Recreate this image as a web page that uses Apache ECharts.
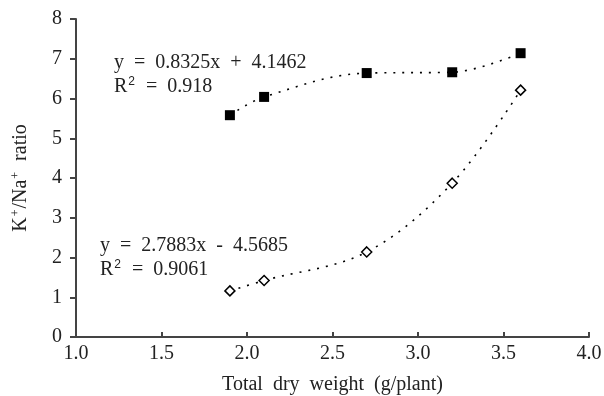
<!DOCTYPE html>
<html>
<head>
<meta charset="utf-8">
<script src="https://cdn.jsdelivr.net/npm/echarts@6/dist/echarts.min.js"></script>
<style>
  html, body { margin: 0; padding: 0; background: #fff; }
  #chart { width: 604px; height: 396px; }
</style>
</head>
<body>
<div id="chart"></div>
<script>
// dry weight (g/plant)
const dryWeight = [1.9, 2.1, 2.7, 3.2, 3.6];
// K+/Na+ ratio, filled squares
const ratioSquares = [5.58, 6.04, 6.64, 6.66, 7.14];
// K+/Na+ ratio, open diamonds
const ratioDiamonds = [1.16, 1.42, 2.14, 3.87, 6.21];

const xTicks = [1.0, 1.5, 2.0, 2.5, 3.0, 3.5, 4.0];
const eqTop = ['y = 0.8325x + 4.1462', 'R2 = 0.918'];
const eqBottom = ['y = 2.7883x - 4.5685', 'R2 = 0.9061'];

const FONT = '"Liberation Serif", "Times New Roman", serif';
const INK = '#000';
const TXT = '#222';

const chart = echarts.init(document.getElementById('chart'));

function pairs(xs, ys) {
  return xs.map((x, i) => [x, ys[i]]);
}

const lineStyle = { color: INK, width: 1.6, type: [2, 7] };

// R2 -> R + superscript 2, and widen the gaps round = + -
function eqText(lines) {
  return lines.map(s => s.replace('R2', 'R{sup|2}').replace(/ ([=+-]) /g, '  $1  ')).join('\n');
}

const supStyle = { fontSize: 12, fill: TXT, padding: [0, 1, 10, 1] };

chart.setOption({
  animation: false,
  grid: { left: 76, right: 15, top: 19, bottom: 59, outerBoundsMode: 'none', containLabel: false },
  xAxis: {
    type: 'value',
    min: 1, max: 4, interval: 0.5,
    name: 'Total  dry  weight  (g/plant)',
    nameLocation: 'center',
    nameGap: 38,
    nameTextStyle: { fontFamily: FONT, fontSize: 20, color: TXT },
    axisLine: { lineStyle: { color: '#444', width: 2 } },
    axisTick: { inside: true, length: 5, lineStyle: { color: '#444', width: 2 } },
    axisLabel: {
      fontFamily: FONT, fontSize: 20, color: TXT, margin: 7,
      formatter: v => xTicks.includes(v) ? v.toFixed(1) : ''
    },
    splitLine: { show: false }
  },
  yAxis: {
    type: 'value',
    min: 0, max: 8, interval: 1,
    name: '{n|K}{sup|+}{n|/Na}{sup|+}{n|  ratio}',
    nameLocation: 'center',
    nameGap: 44,
    nameRotate: 90,
    nameTextStyle: {
      rich: {
        n: { fontFamily: FONT, fontSize: 20, color: TXT },
        sup: { fontFamily: FONT, fontSize: 12, color: TXT, padding: [0, 1, 10, 1] }
      }
    },
    axisLine: { lineStyle: { color: '#444', width: 2 } },
    axisTick: { length: 6, lineStyle: { color: '#444', width: 2 } },
    axisLabel: { fontFamily: FONT, fontSize: 20, color: TXT, margin: 14 },
    splitLine: { show: false }
  },
  series: [
    {
      type: 'line',
      data: pairs(dryWeight, ratioSquares),
      smooth: 0.35,
      symbol: 'rect',
      symbolSize: 10,
      itemStyle: { color: INK },
      lineStyle: lineStyle
    },
    {
      type: 'line',
      data: pairs(dryWeight, ratioDiamonds),
      smooth: 0.35,
      symbol: 'diamond',
      symbolSize: 10,
      itemStyle: { color: '#fff', borderColor: INK, borderWidth: 1.5 },
      lineStyle: lineStyle
    }
  ],
  graphic: [
    {
      type: 'text', left: 114, top: 51,
      style: {
        text: eqText(eqTop),
        font: '20px ' + FONT, fill: TXT, lineHeight: 24,
        rich: { sup: supStyle }
      }
    },
    {
      type: 'text', left: 100, top: 234,
      style: {
        text: eqText(eqBottom),
        font: '20px ' + FONT, fill: TXT, lineHeight: 24,
        rich: { sup: supStyle }
      }
    }
  ]
});
</script>
</body>
</html>
